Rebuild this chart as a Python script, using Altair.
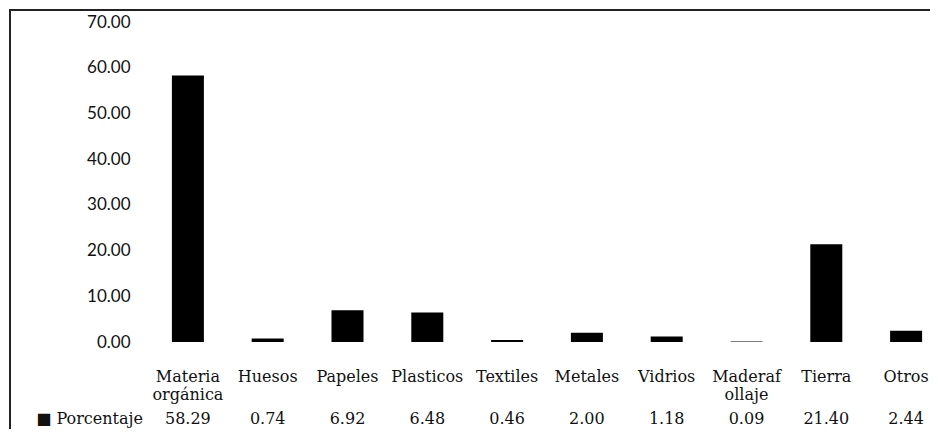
import altair as alt
import pandas as pd

categories = ["Materia orgánica", "Huesos", "Papeles", "Plasticos", "Textiles",
              "Metales", "Vidrios", "Maderafollaje", "Tierra", "Otros"]
labels = ["Materia\norgánica", "Huesos", "Papeles", "Plasticos", "Textiles",
          "Metales", "Vidrios", "Maderaf\nollaje", "Tierra", "Otros"]
values = [58.29, 0.74, 6.92, 6.48, 0.46, 2.00, 1.18, 0.09, 21.40, 2.44]
y_ticks = [0, 10, 20, 30, 40, 50, 60, 70]
series_name = "Porcentaje"
title_text = "AYACUCHO"

df = pd.DataFrame({"cat": categories, "label": labels, "val": values})

x_enc = alt.X("cat:N", sort=categories, axis=None,
              scale=alt.Scale(range=[0, 798], paddingInner=0, paddingOuter=0))

base = alt.Chart(df)

bars = base.mark_bar(color="#000000", size=32).encode(
    x=x_enc,
    y=alt.Y("val:Q", scale=alt.Scale(domain=[0, 70], nice=False),
            axis=alt.Axis(values=y_ticks, format=".2f", title=None, grid=False,
                          domain=False, ticks=False, labelPadding=18,
                          labelFont="Lato", labelFontSize=17, labelColor="#111111")),
)

cat_text = base.mark_text(font="DejaVu Serif", fontSize=16, color="#111111",
                          baseline="middle", lineBreak="\n", lineHeight=18).encode(
    x=x_enc, y=alt.value(355), text="label:N")

val_text = base.mark_text(font="DejaVu Serif", fontSize=16, color="#111111",
                          baseline="middle").encode(
    x=x_enc, y=alt.value(397), text=alt.Text("val:Q", format=".2f"))

legend_df = pd.DataFrame({"t": ["■ " + series_name]})
legend_text = alt.Chart(legend_df).mark_text(font="DejaVu Serif", fontSize=16,
                                             color="#111111", align="right",
                                             baseline="middle").encode(
    x=alt.value(-5), y=alt.value(397), text="t:N")

title_df = pd.DataFrame({"t": [title_text]})
title_mark = alt.Chart(title_df).mark_text(font="Liberation Sans", fontSize=24,
                                           fontWeight="bold", color="#000000",
                                           align="center", baseline="alphabetic").encode(
    x=alt.value(322), y=alt.value(-14), text="t:N")

frame_df = pd.DataFrame({"a": [0]})
frame = alt.Chart(frame_df).mark_rect(fillOpacity=0, stroke="#222222", strokeWidth=2).encode(
    x=alt.value(-138), x2=alt.value(820), y=alt.value(-12), y2=alt.value(440))

chart = alt.layer(frame, bars, cat_text, val_text, legend_text, title_mark).properties(
    width=782, height=320,
    padding={"left": 140, "top": 14, "right": 0, "bottom": 87},
    autosize=alt.AutoSizeParams(type="none"),
    background="#ffffff",
).configure_view(stroke=None, strokeWidth=0)

chart.save("out.html", embed_options={"renderer": "svg", "actions": False})
